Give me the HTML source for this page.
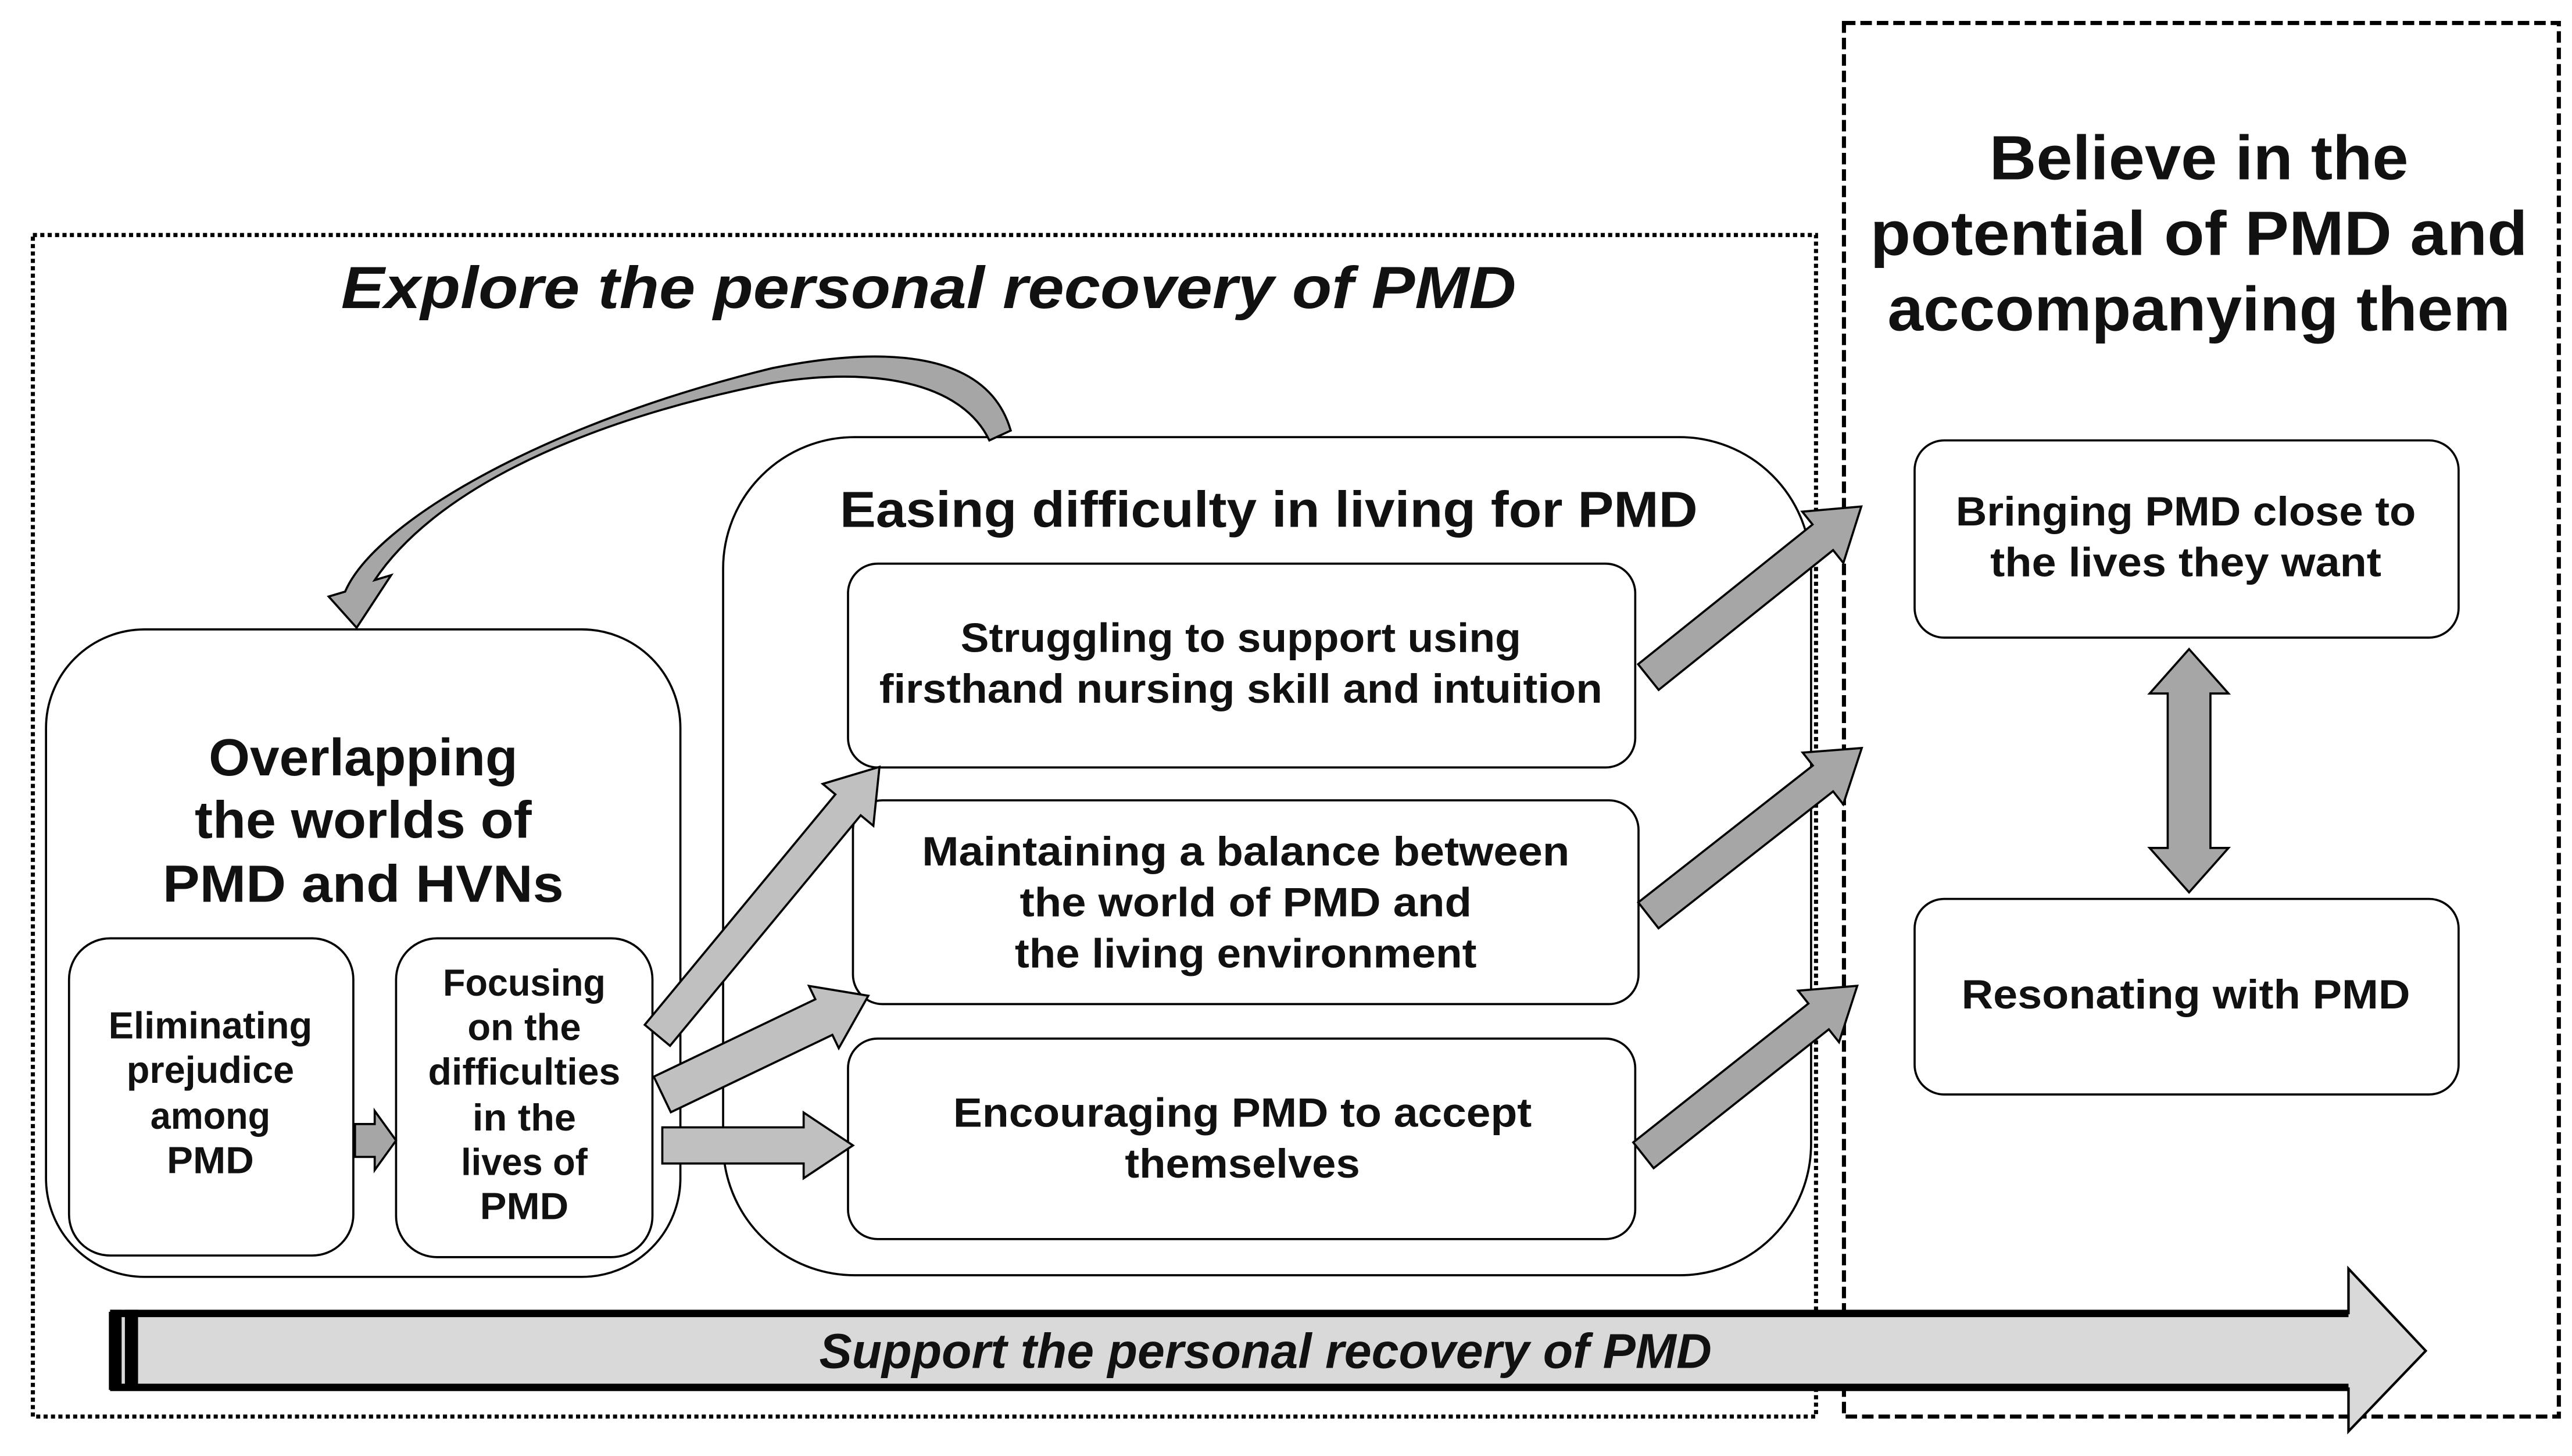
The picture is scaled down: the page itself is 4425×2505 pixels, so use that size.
<!DOCTYPE html>
<html><head><meta charset="utf-8">
<style>
html,body{margin:0;padding:0;background:#fff;}
svg{display:block;}
text{font-family:"Liberation Sans","Noto Sans CJK JP",sans-serif;font-weight:bold;fill:#111;}
</style></head>
<body>
<svg width="4425" height="2505" viewBox="0 0 1565 886" preserveAspectRatio="none" xmlns="http://www.w3.org/2000/svg">
<rect x="0" y="0" width="1565" height="886" fill="#fff"/>
<!-- outer dotted box -->
<rect x="20" y="143" width="1085" height="719" fill="none" stroke="#000" stroke-width="2.5" stroke-dasharray="2.5,2"/>
<!-- right dashed box -->
<rect x="1122" y="14" width="435" height="848" fill="none" stroke="#000" stroke-width="2.5" stroke-dasharray="7,3"/>

<text x="565" y="175" font-size="36" font-style="italic" text-anchor="middle" dominant-baseline="central" textLength="715" lengthAdjust="spacingAndGlyphs">Explore the personal recovery of PMD</text>

<text x="1338" y="96" font-size="38" text-anchor="middle" dominant-baseline="central" textLength="255" lengthAdjust="spacingAndGlyphs">Believe in the</text>
<text x="1338" y="142" font-size="38" text-anchor="middle" dominant-baseline="central" textLength="400" lengthAdjust="spacingAndGlyphs">potential of PMD and</text>
<text x="1338" y="188" font-size="38" text-anchor="middle" dominant-baseline="central" textLength="379" lengthAdjust="spacingAndGlyphs">accompanying them</text>

<!-- middle big box -->
<rect x="440" y="266" width="662" height="510" rx="80" ry="80" fill="#fff" stroke="#000" stroke-width="1.3"/>
<text x="772" y="310" font-size="31" text-anchor="middle" dominant-baseline="central" textLength="522" lengthAdjust="spacingAndGlyphs">Easing difficulty in living for PMD</text>

<!-- left box -->
<rect x="28" y="383" width="386" height="394" rx="60" ry="60" fill="#fff" stroke="#000" stroke-width="1.3"/>
<text x="221" y="461" font-size="32" text-anchor="middle" dominant-baseline="central" textLength="188" lengthAdjust="spacingAndGlyphs">Overlapping</text>
<text x="221" y="499" font-size="32" text-anchor="middle" dominant-baseline="central" textLength="205" lengthAdjust="spacingAndGlyphs">the worlds of</text>
<text x="221" y="538" font-size="32" text-anchor="middle" dominant-baseline="central" textLength="244" lengthAdjust="spacingAndGlyphs">PMD and HVNs</text>

<rect x="42" y="571" width="173" height="193" rx="25" ry="25" fill="#fff" stroke="#000" stroke-width="1.3"/>
<text x="128" y="624" font-size="23" text-anchor="middle" dominant-baseline="central" textLength="124" lengthAdjust="spacingAndGlyphs">Eliminating</text>
<text x="128" y="651" font-size="23" text-anchor="middle" dominant-baseline="central" textLength="102" lengthAdjust="spacingAndGlyphs">prejudice</text>
<text x="128" y="679" font-size="23" text-anchor="middle" dominant-baseline="central" textLength="73" lengthAdjust="spacingAndGlyphs">among</text>
<text x="128" y="706" font-size="23" text-anchor="middle" dominant-baseline="central" textLength="53" lengthAdjust="spacingAndGlyphs">PMD</text>

<rect x="241" y="571" width="156" height="194" rx="25" ry="25" fill="#fff" stroke="#000" stroke-width="1.3"/>
<text x="319" y="598" font-size="23" text-anchor="middle" dominant-baseline="central" textLength="99" lengthAdjust="spacingAndGlyphs">Focusing</text>
<text x="319" y="625" font-size="23" text-anchor="middle" dominant-baseline="central" textLength="69" lengthAdjust="spacingAndGlyphs">on the</text>
<text x="319" y="652" font-size="23" text-anchor="middle" dominant-baseline="central" textLength="117" lengthAdjust="spacingAndGlyphs">difficulties</text>
<text x="319" y="680" font-size="23" text-anchor="middle" dominant-baseline="central" textLength="63" lengthAdjust="spacingAndGlyphs">in the</text>
<text x="319" y="707" font-size="23" text-anchor="middle" dominant-baseline="central" textLength="77" lengthAdjust="spacingAndGlyphs">lives of</text>
<text x="319" y="734" font-size="23" text-anchor="middle" dominant-baseline="central" textLength="54" lengthAdjust="spacingAndGlyphs">PMD</text>

<!-- inner middle boxes -->
<rect x="516" y="343" width="479" height="124" rx="18" ry="18" fill="#fff" stroke="#000" stroke-width="1.3"/>
<text x="755" y="388" font-size="25" text-anchor="middle" dominant-baseline="central" textLength="341" lengthAdjust="spacingAndGlyphs">Struggling to support using</text>
<text x="755" y="419" font-size="25" text-anchor="middle" dominant-baseline="central" textLength="440" lengthAdjust="spacingAndGlyphs">firsthand nursing skill and intuition</text>

<rect x="519" y="487" width="478" height="124" rx="18" ry="18" fill="#fff" stroke="#000" stroke-width="1.3"/>
<text x="758" y="518" font-size="25" text-anchor="middle" dominant-baseline="central" textLength="394" lengthAdjust="spacingAndGlyphs">Maintaining a balance between</text>
<text x="758" y="549" font-size="25" text-anchor="middle" dominant-baseline="central" textLength="275" lengthAdjust="spacingAndGlyphs">the world of PMD and</text>
<text x="758" y="580" font-size="25" text-anchor="middle" dominant-baseline="central" textLength="281" lengthAdjust="spacingAndGlyphs">the living environment</text>

<rect x="516" y="632" width="479" height="122" rx="18" ry="18" fill="#fff" stroke="#000" stroke-width="1.3"/>
<text x="756" y="677" font-size="25" text-anchor="middle" dominant-baseline="central" textLength="352" lengthAdjust="spacingAndGlyphs">Encouraging PMD to accept</text>
<text x="756" y="708" font-size="25" text-anchor="middle" dominant-baseline="central" textLength="143" lengthAdjust="spacingAndGlyphs">themselves</text>

<!-- right boxes -->
<rect x="1165" y="268" width="331" height="120" rx="18" ry="18" fill="#fff" stroke="#000" stroke-width="1.3"/>
<text x="1330" y="311" font-size="25" text-anchor="middle" dominant-baseline="central" textLength="280" lengthAdjust="spacingAndGlyphs">Bringing PMD close to</text>
<text x="1330" y="342" font-size="25" text-anchor="middle" dominant-baseline="central" textLength="238" lengthAdjust="spacingAndGlyphs">the lives they want</text>

<rect x="1165" y="547" width="331" height="119" rx="18" ry="18" fill="#fff" stroke="#000" stroke-width="1.3"/>
<text x="1330" y="605" font-size="25" text-anchor="middle" dominant-baseline="central" textLength="273" lengthAdjust="spacingAndGlyphs">Resonating with PMD</text>

<!-- double arrow -->
<polygon points="1332,395 1356,422 1345,422 1345,516 1356,516 1332,543 1308,516 1319,516 1319,422 1308,422" fill="#a6a6a6" stroke="#000" stroke-width="1.3"/>

<!-- straight arrows -->
<g stroke="#000" stroke-width="1.3">
<polygon transform="translate(216,694)" points="0,-10 12,-10 12,-18 25,0 12,18 12,10 0,10" fill="#a6a6a6"/>
<polygon transform="translate(403,697)" points="0,-11 86,-11 86,-20 116,0 86,20 86,11 0,11" fill="#c0c0c0"/>
<polygon transform="translate(400,630) rotate(-50.4)" points="0,-10 182,-10 182,-20 212,0 182,20 182,10 0,10" fill="#c0c0c0"/>
<polygon transform="translate(403,666) rotate(-25.6)" points="0,-12 109,-12 109,-21 139,0 109,21 109,12 0,12" fill="#c0c0c0"/>
<polygon transform="translate(1003,412) rotate(-38.7)" points="0,-10 136,-10 136,-20 166,0 136,20 136,10 0,10" fill="#a6a6a6"/>
<polygon transform="translate(1003,557) rotate(-38.1)" points="0,-10 135,-10 135,-20 165,0 135,20 135,10 0,10" fill="#a6a6a6"/>
<polygon transform="translate(1000,703) rotate(-38.4)" points="0,-10 136,-10 136,-20 166,0 136,20 136,10 0,10" fill="#a6a6a6"/>
</g>

<!-- curved arrow -->
<path d="M 615,262 C 600,210 530,212 470,224 C 330,258 228,318 210,360 L 200,363 L 217,382 L 238,350 L 228,353 C 262,302 345,258 470,233 C 530,223 585,232 602,268 Z" fill="#a6a6a6" stroke="#000" stroke-width="1.3"/>

<!-- bottom arrow -->
<polygon points="67,799 1429,799 1429,772 1476,822 1429,871 1429,845 67,845" fill="#d9d9d9" stroke="#000" stroke-width="1.5"/>
<rect x="67" y="797" width="1362" height="4.5" fill="#000"/>
<rect x="67" y="842" width="1362" height="4.5" fill="#000"/>
<rect x="67" y="797" width="7" height="49" fill="#000"/>
<rect x="76" y="797" width="8" height="49" fill="#000"/>
<text x="770" y="822" font-size="30" font-style="italic" text-anchor="middle" dominant-baseline="central" textLength="543" lengthAdjust="spacingAndGlyphs">Support the personal recovery of PMD</text>
</svg>
</body></html>
